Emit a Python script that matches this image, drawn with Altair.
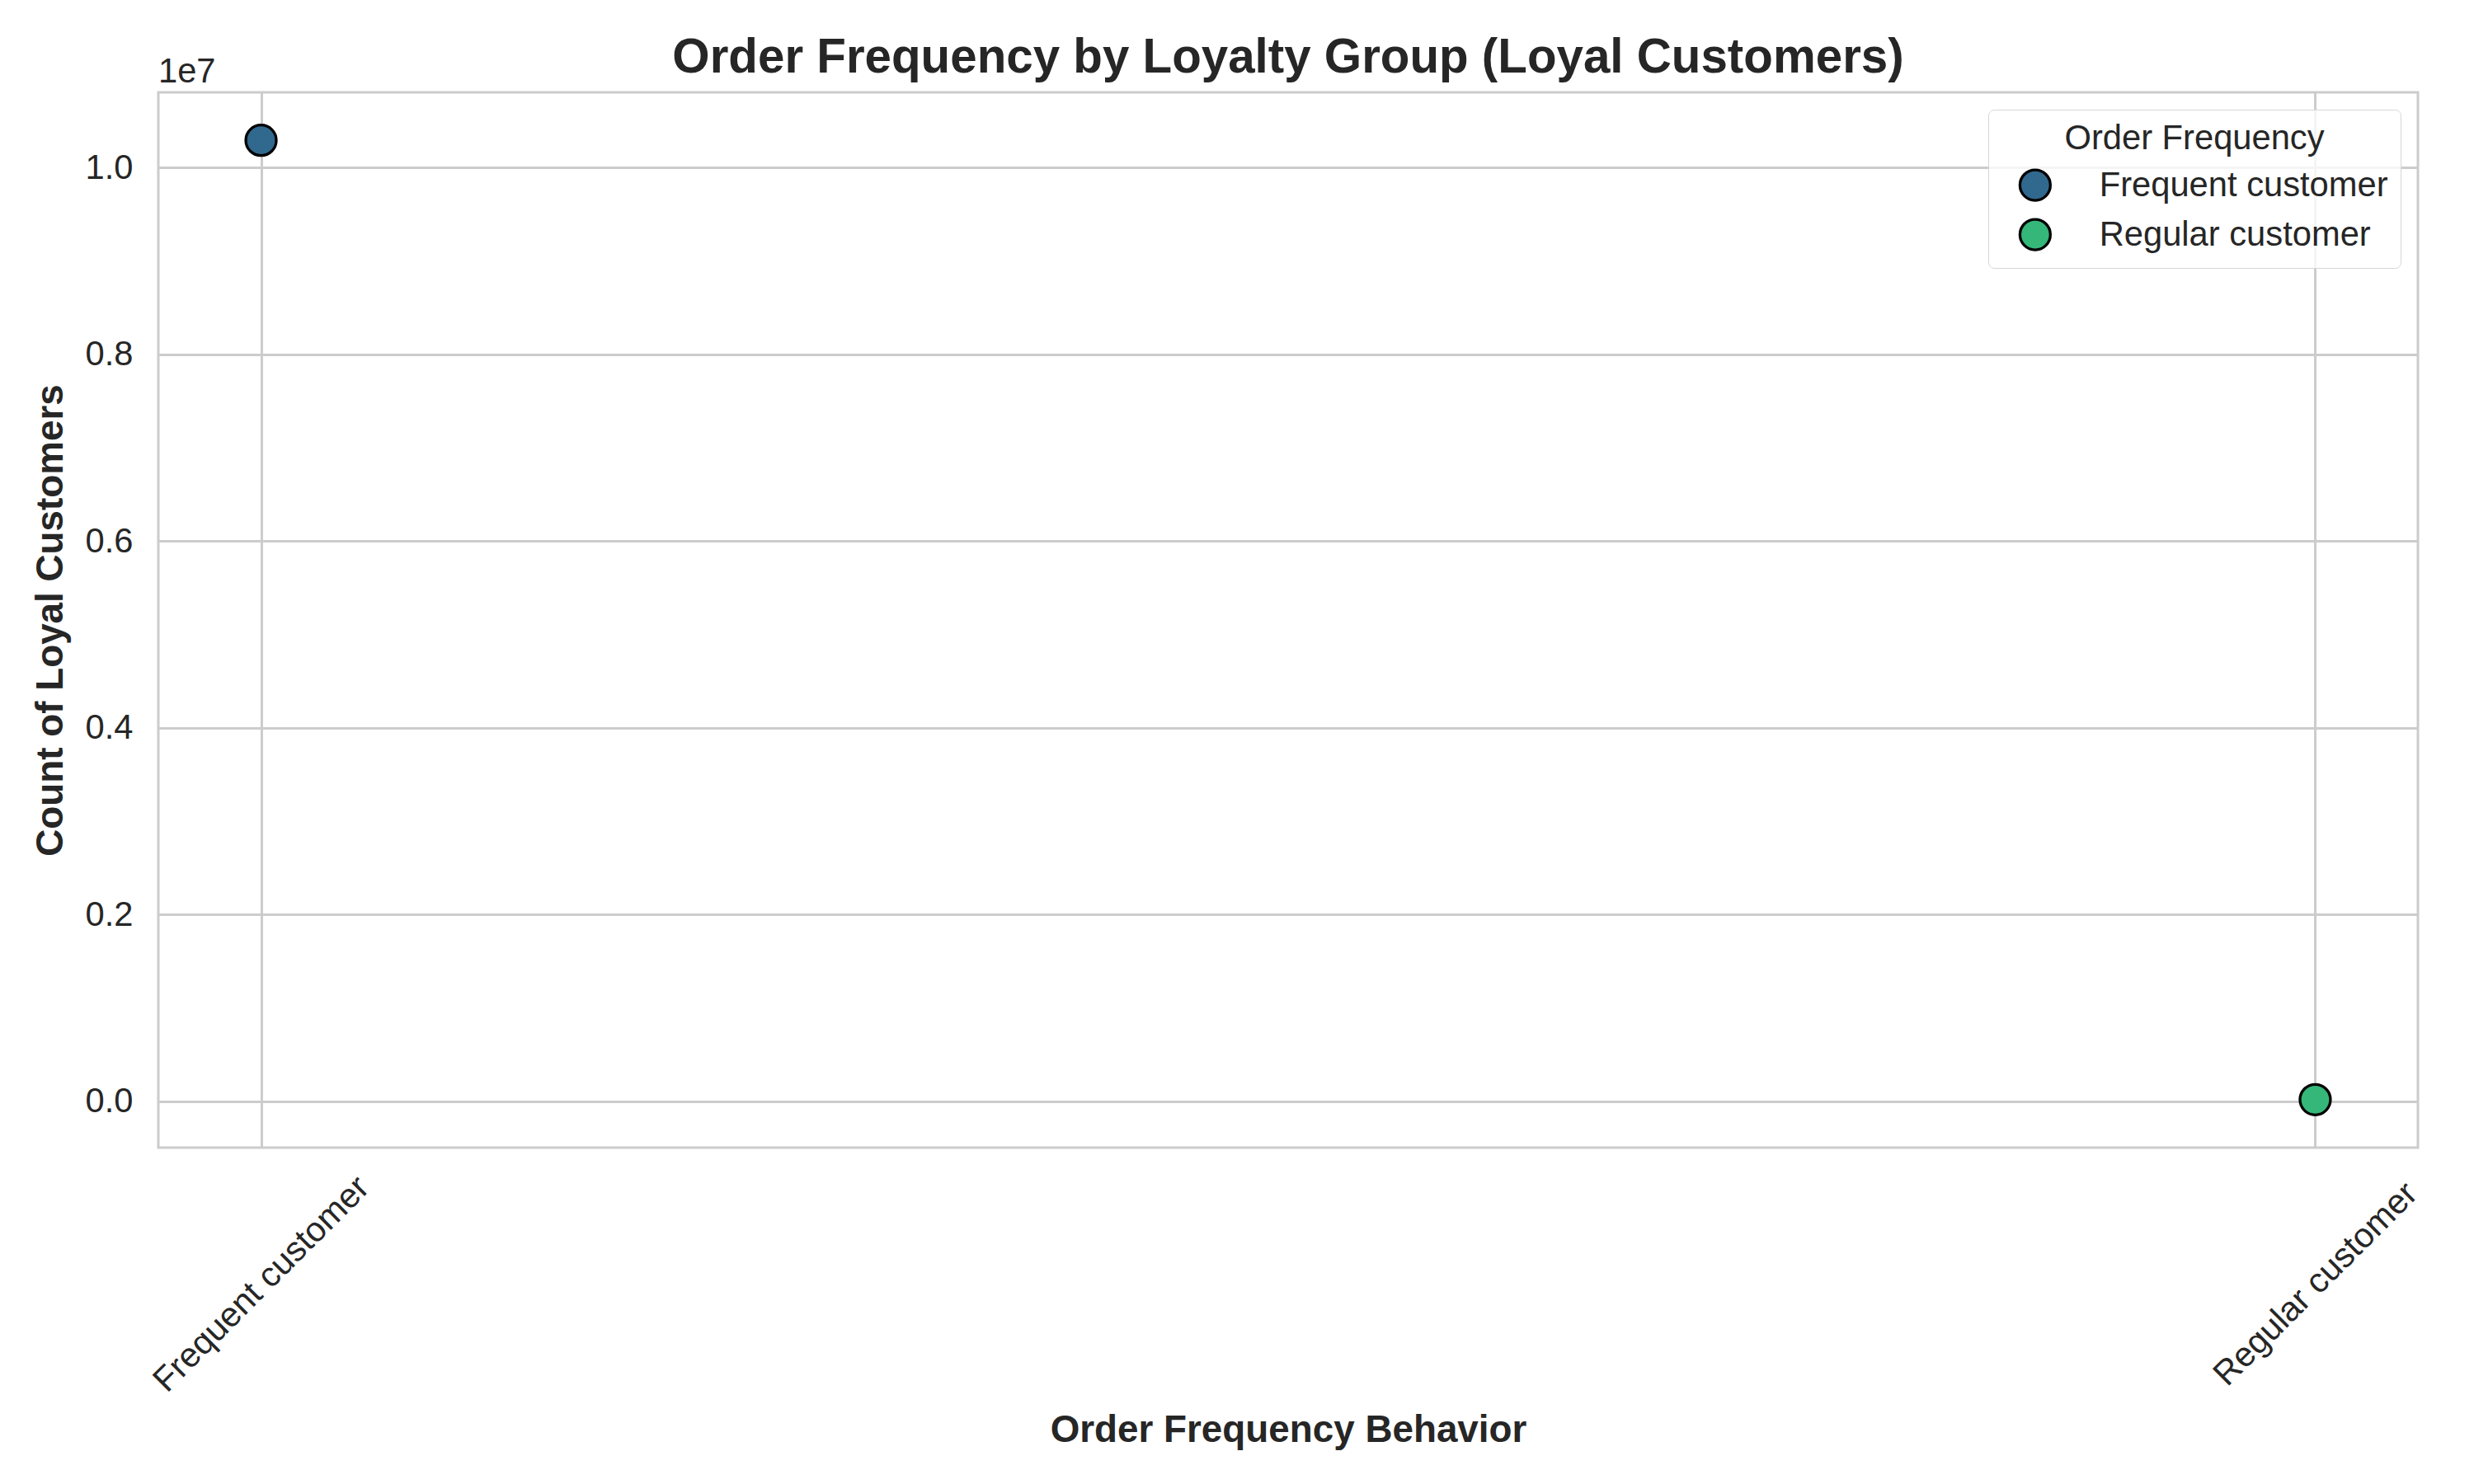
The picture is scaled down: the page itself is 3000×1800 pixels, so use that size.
import altair as alt
import pandas as pd

# ---- data ----
categories = ["Frequent customer", "Regular customer"]
counts = [10290000, 15000]
colors = ["#31688e", "#35b779"]
y_ticks = [0, 2000000, 4000000, 6000000, 8000000, 10000000]

df = pd.DataFrame({"behavior": categories, "count": counts})

# matplotlib-like 5% margins
lo, hi = min(counts), max(counts)
span = hi - lo
y_domain = [lo - 0.05 * span, hi + 0.05 * span]

FONT = "Liberation Sans"
TXT = "#262626"
GRID = "#cccccc"
W, H = 2740, 1280

points = alt.Chart(df).mark_circle(
    size=1366, stroke="black", strokeWidth=3.3, opacity=1
).encode(
    x=alt.X(
        "behavior:N",
        sort=categories,
        scale=alt.Scale(type="point", padding=0.05),
        axis=alt.Axis(
            title="Order Frequency Behavior",
            labelAngle=315,
            labelAlign="center",
            labelBaseline="middle",
            labelPadding=165,
            labelFontSize=41.7,
            labelFont=FONT,
            labelColor=TXT,
            labelLimit=1000,
            labelOverlap=False,
            ticks=False,
            domain=False,
            grid=True,
            gridColor=GRID,
            gridWidth=3,
            titleFontSize=45.8,
            titleFont=FONT,
            titleFontWeight="bold",
            titleColor=TXT,
            titleLimit=2000,
            titleX=W / 2,
            titleY=342,
            titleAlign="center",
            titleBaseline="middle",
        ),
    ),
    y=alt.Y(
        "count:Q",
        scale=alt.Scale(domain=y_domain, nice=False, zero=False),
        axis=alt.Axis(
            title="Count of Loyal Customers",
            values=y_ticks,
            labelExpr="format(datum.value / 1e7, '.1f')",
            labelPadding=31,
            labelFontSize=41.7,
            labelFont=FONT,
            labelColor=TXT,
            labelBaseline="middle",
            ticks=False,
            domain=False,
            grid=True,
            gridColor=GRID,
            gridWidth=3,
            titleFontSize=45.8,
            titleFont=FONT,
            titleFontWeight="bold",
            titleColor=TXT,
            titleLimit=2000,
            titleAngle=270,
            titleX=-131,
            titleY=H / 2,
            titleAlign="center",
            titleBaseline="middle",
        ),
    ),
    color=alt.Color(
        "behavior:N",
        sort=categories,
        scale=alt.Scale(domain=categories, range=colors),
        legend=alt.Legend(
            title="Order Frequency",
            orient="none",
            legendX=2219,
            legendY=21,
            padding=15,
            symbolOffset=21,
            labelOffset=57,
            rowPadding=9,
            titlePadding=14,
            symbolType="circle",
            symbolSize=1366,
            symbolStrokeColor="black",
            symbolStrokeWidth=3.3,
            symbolOpacity=1,
            labelFontSize=41.7,
            labelFont=FONT,
            labelColor=TXT,
            labelLimit=1000,
            titleFontSize=41.7,
            titleFont=FONT,
            titleFontWeight="normal",
            titleColor=TXT,
            titleLimit=1000,
            titleAnchor="middle",
            titleAlign="center",
            fillColor="rgba(255,255,255,0.8)",
            strokeColor="#d5d5d5",
            cornerRadius=7,
        ),
    ),
)

offset_text = alt.Chart(pd.DataFrame({"t": ["1e7"]})).mark_text(
    align="left", baseline="alphabetic", fontSize=41.7, font=FONT, color=TXT
).encode(text="t:N", x=alt.value(0), y=alt.value(-12))

chart = alt.layer(points, offset_text).properties(
    width=W,
    height=H,
    padding={"left": 192, "top": 112, "right": 68, "bottom": 408},
    autosize=alt.AutoSizeParams(type="none"),
    background="white",
    title=alt.TitleParams(
        text="Order Frequency by Loyalty Group (Loyal Customers)",
        fontSize=58.3,
        font=FONT,
        fontWeight="bold",
        color=TXT,
        anchor="middle",
        baseline="alphabetic",
        limit=3000,
        offset=-79,
    ),
).configure_view(
    stroke=GRID, strokeWidth=3
)

chart.save("out.html", embed_options={"renderer": "svg", "actions": False})
